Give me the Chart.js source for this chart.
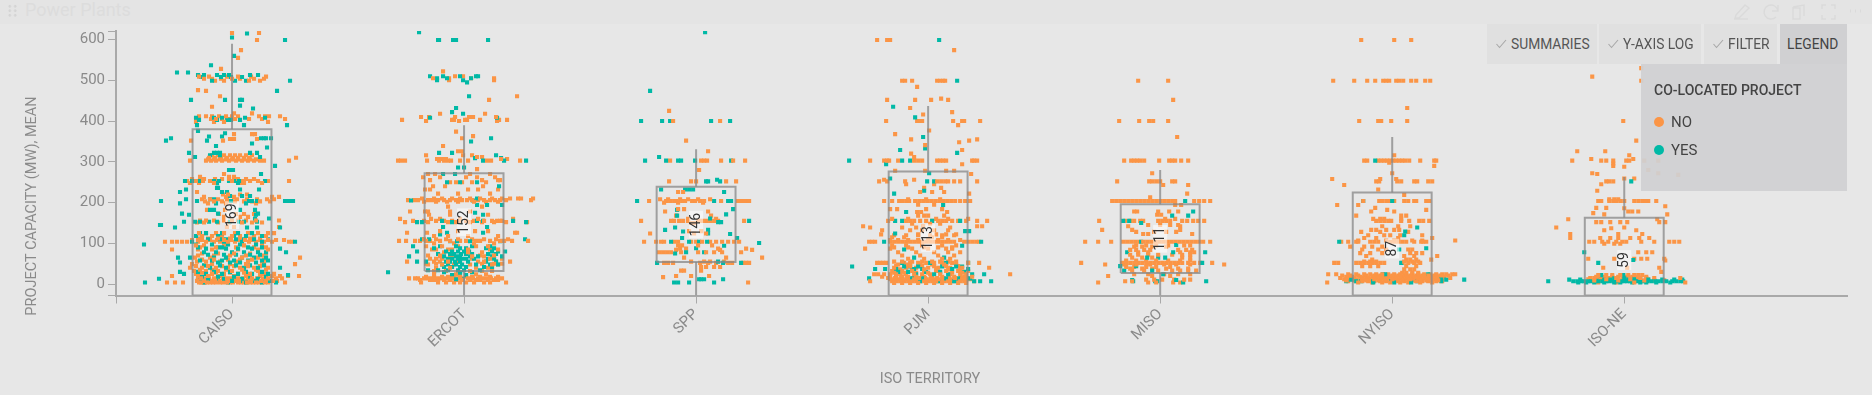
<!DOCTYPE html>
<html>
<head>
<meta charset="utf-8">
<title>Power Plants</title>
<script src="https://cdn.jsdelivr.net/npm/chart.js@4"></script>
<style>
  html, body { margin: 0; padding: 0; background: #e7e7e7; overflow: hidden; }
  body { width: 1872px; height: 395px; position: relative; font-family: Roboto, sans-serif; }
  canvas { position: absolute; left: 0; top: 0; filter: blur(0.4px); }
  #header { position: absolute; left: 0; top: 0; width: 1872px; height: 24px; background: #e4e4e4; }
  #header span { position: absolute; left: 25px; top: 0; line-height: 20px; font-size: 18px; color: #dcdcdc; }
  #grip { position: absolute; left: 6.5px; top: 4px; width: 11px; height: 13.5px;
    background-image: radial-gradient(circle, #d4d4d4 1.3px, transparent 1.5px); background-size: 5.5px 4.5px; }
  #icons { position: absolute; left: 1730px; top: 2px; }
  .btn { position: absolute; top: 24px; height: 40px; line-height: 40px; background: #e0e0e0; color: #555; font-size: 13.8px; box-sizing: border-box; white-space: nowrap; }
  .btn svg { position: absolute; left: 9px; top: 15px; }
  .btn b { font-weight: 400; position: absolute; top: 0; }
  #legendBox { position: absolute; left: 1641px; top: 64px; width: 206px; height: 127px; background: rgba(208,208,210,0.93); color: #444; }
  #legendBox div { position: absolute; white-space: nowrap; }
  .dot { width: 10px; height: 10px; border-radius: 50%; left: 13px; }
</style>
</head>
<body>
<canvas id="plot" width="1872" height="395"></canvas>
<div id="header"><div id="grip"></div><span>Power Plants</span>
  <svg id="icons" width="142" height="20" fill="none" stroke="#dadada" stroke-width="1.4">
    <path d="M4 17 L18 17 M6 13 L15 3 L19 6 L9 16 L5 16 Z"/>
    <path d="M48 9 A7 7 0 1 0 46 15 M48 3 L48 9 L42 9"/>
    <path d="M63 5 L74 3 L74 14 M63 5 L63 17 L70 17 L70 6 L63 6"/>
    <path d="M92 7 L92 3 L96 3 M101 3 L105 3 L105 7 M105 13 L105 17 L101 17 M96 17 L92 17 L92 13"/>
    <path d="M120 9 h1 M125 9 h1 M130 9 h1" stroke-width="3"/>
  </svg>
</div>
<div class="btn" style="left:1487px;width:110px"><svg width="11" height="10" fill="none" stroke="#a8a8a8" stroke-width="1.1"><path d="M0.5 5 L3.5 8.5 L10 1"/></svg><b style="left:24px">SUMMARIES</b></div>
<div class="btn" style="left:1599px;width:102px"><svg width="11" height="10" fill="none" stroke="#a8a8a8" stroke-width="1.1"><path d="M0.5 5 L3.5 8.5 L10 1"/></svg><b style="left:24px">Y-AXIS LOG</b></div>
<div class="btn" style="left:1704px;width:73px"><svg width="11" height="10" fill="none" stroke="#a8a8a8" stroke-width="1.1"><path d="M0.5 5 L3.5 8.5 L10 1"/></svg><b style="left:24px">FILTER</b></div>
<div class="btn" style="left:1780px;width:67px;background:#d0d0d2;color:#444"><b style="left:7px">LEGEND</b></div>
<div id="legendBox">
  <div style="left:13px;top:17px;font-size:14px;font-weight:500;line-height:18px">CO-LOCATED PROJECT</div>
  <div class="dot" style="top:53px;background:#fb9546"></div>
  <div style="left:30px;top:49px;font-size:15px;line-height:18px">NO</div>
  <div class="dot" style="top:81px;background:#00b9a6"></div>
  <div style="left:30px;top:77px;font-size:15px;line-height:18px">YES</div>
</div>
<script>
const categories = ["CAISO", "ERCOT", "SPP", "PJM", "MISO", "NYISO", "ISO-NE"];
const means = [169, 152, 146, 113, 111, 87, 59];
const boxTop = [380, 272, 239, 276, 196, 225, 163];
const boxBottom = [-28, 32, 54, -28, 27, -28, -28];
const whiskerTop = [590, 390, 331, 437, 280, 361, 263];
const whiskerBottom = [-28, -28, -28, -28, -28, -28, -28];
const yTicks = [-28, 0, 100, 200, 300, 400, 500, 600, 621];

// each row: [project capacity in MW, [jitter of each project, in 1/232 of a band]]
const caisoNo = [
  [616,[0,27]],[599,[25]],[574,[9]],[555,[6]],[528,[-11]],
  [509,[-33,-23,-5,6,19,34]],[504,[-28,-20,-11,0,8,22,32]],[499,[-17,-8,17,28]],
  [476,[-34]],[474,[-26]],[461,[-12]],[435,[-20]],[419,[2,20]],
  [412,[-33,-26,-20,-13,-6,0,6,27,33,37,48]],[405,[-36,-21,-16,-10,-3,3,17,30,53]],[398,[-36,-18,-8,36]],
  [368,[2,20,23]],[356,[-2,2,25]],[352,[-41,-9]],
  [316,[-20,-14,-8,-2,3,8,14,20]],[310,[-23,-17,-11,-5,1,6,12,17,64]],[306,[-24,-18,-12,-6,0,6,12,18,24]],[303,[-42,-26,-21,-16,-10,-3,4,10,16,22,28,32,57]],
  [270,[-8]],[263,[-32,-3,2]],
  [258,[-40,-28,-17,-10,-3,6,14,22]],[253,[-45,-36,-29,-22,-14,0,3,10,18,26,36,57]],[248,[-42,-33,-18,8,12,30]],
  [226,[-35]],[220,[-9,-4,8,15]],[214,[-28,-6,2,47,40]],
  [208,[-30,-22,-14,-5,5,15,25,35,42]],[203,[-27,-18,-10,-2,3,12,20,28,38]],[198,[-24,-6,24]],
  [182,[-25,-7]],[172,[-13,4,12,22]],[165,[-8,8,16]],
  [156,[-32,-26,-18,-8,0,6,14,24,47]],[151,[-35,-28,-14,-3,10,20,30]],[140,[-5,2,47]],
  [125,[-33,-26,-16,-8,3,16,26,36,42]],[118,[-30,-20,-10,0,8,22,34]],[112,[-34,-24,-14,-2,8,18,28]],
  [108,[-40,-30,-22,-15,-8,-1,6,13,20,28,36,44,52]],[104,[-67,-60,-55,-50,-45,-34,-26,-18,-12,-4,3,10,17,24,32,40,57,60]],
  [95,[-36,-28,-8,12,30]],[90,[-32,-16,4,22,34]],[85,[-60,-34,-20,6,26,36]],[75,[-30,-14,2,18,34]],[70,[-34,-18,-2,14,30]],
  [65,[68,-37,-22,-6,10,26]],[60,[-30,-18,-4,8,20,32]],[55,[-35,-26,-12,4,16,30]],[49,[63,-40,-20,-2,14,32]],[44,[-36,-24,-10,2,16,28]],
  [40,[-42,-30,-16,-4,8,22,36]],[35,[-32,-20,-6,10,24,34]],[32,[-38,-26,-14,0,12,26]],[28,[-30,-16,-2,12,28]],[25,[-36,-20,-8,6,18,32,42]],
  [20,[-60,67,-34,-24,-12,2,14,28,40,48,56]],
  [14,[-34,-31,-27,-23,-18,-14,-9,-5,-1,2,6,11,16,20,25,31,36,44,50]],
  [8,[-35,-32,-30,-28,-24,-20,-17,-13,-8,-4,0,3,7,10,14,19,23,26,29,34,38,41,45]],
  [4,[-65,-57,-49,-33,-31,-29,-27,-25,-22,-19,-16,-12,-9,-5,-2,1,6,9,12,15,18,21,24,27,30,33,36,53]]
];
const caisoYes = [
  [615,[15]],[605,[0]],[599,[53]],[560,[2]],[537,[-21]],[519,[-55,-44]],
  [513,[-34,-28,-15,-8,-3,18,26]],[508,[-31,-11,-1,10]],[499,[58,-20,3,14]],[474,[45]],
  [452,[-41,-7,8,10]],[438,[8]],[431,[21]],
  [408,[-36,-18,-10,13,33]],[403,[-33,-15,-5,-1,8]],[390,[55,12,-35]],[376,[-34]],
  [370,[-7]],[362,[-23,-10]],[358,[32,29,34,39,-61]],[352,[-25,-66]],[345,[20]],[339,[-16]],[335,[35]],
  [322,[-43,-18,-15,-12,18,25]],[316,[-22,-12]],[312,[-37,28]],[290,[43]],[280,[-3,1]],[270,[29]],
  [253,[-47,-40,-32,-18,-13,-3,2,7,33]],[248,[-15,6]],[236,[-15,-14]],[232,[27,-46,8]],[226,[-52,-10,-5]],
  [216,[10,-2,18]],[208,[-46,-22,-18]],[204,[-71,-35,-1,17,20,25,53,57,61]],[198,[-52,-16,14]],
  [182,[-22,-18,23,8]],[173,[-50,-14,26]],[170,[-43,24]],
  [161,[37,23]],[153,[-48,-37,-32,-23,-15,-2,7,12,25]],[145,[-72,-71]],[139,[-57,48,15,25]],
  [125,[-32,-26,-10,6,20]],[118,[-36,-30,-14,2,14,30]],[110,[-24,-12,-6,4,12,22,36]],[104,[63,-40,-8,10,30]],
  [97,[-88,-36,-20,-4,8,24]],[90,[-34,-14,-10,16,30]],[87,[48,-26,-6,6,20]],[78,[54,-28,-16,0,12,26,34]],
  [72,[-24,-8,4,18,28]],[65,[-54,-42,-18,-6,10,22,34]],[58,[-32,-20,-10,2,16,30,36]],
  [53,[-52,-14,-2,8,24]],[46,[-28,-12,4,18,32]],[40,[48,-22,-6,12,26]],[30,[-52,-34,-18,-2,14,30]],
  [25,[-48,-26,-10,6,20,36]],[22,[56]],[18,[-30,-14,2,18,34]],[13,[-73,-24,-8,10,26]],
  [8,[-32,-16,0,8,22,38]],[4,[-87,44,-28,-4,14,30]]
];

const ercotNo = [
  [522,[-21]],[510,[-9,-1]],[505,[-31,-15,7,30]],[500,[-15,30]],[461,[53]],[452,[25]],
  [418,[-24,21]],[410,[-43,-35,-9,5,9,32]],[403,[-62,-12,-10,1,3,16,43,35]],[400,[-38,-5,33]],
  [374,[-8]],[363,[9]],[358,[-2]],[339,[-21]],[326,[-6,-2]],[316,[-38,-1,8]],[312,[13,18]],
  [307,[-27,-24,-21,-18,37,43]],[303,[-66,-63,-59,-37,-25,-20,-16,-13,-4,4,23,27,56]],[282,[13]],
  [270,[-29,-36,6,26]],[262,[-41,-24,2,13,31]],[255,[-34,36,18,34]],[250,[-14,-8,-2,8,22]],[240,[-31,-19,19]],
  [232,[-34,-39,4,34,14]],[222,[-26,-6,26]],
  [210,[54,57,69,-42,-30,-22,-12,-4,6,16,28,38,46]],[206,[-56,-50,-46,-36,-32,-26,-20,-14,-8,-2,3,8,14,20,26,31,36,42,67]],[202,[-40,-28,-17,-6,10,22,34]],
  [190,[-16,18]],[178,[-54,-39,-36,-14,6]],[170,[-35,-14,24]],
  [160,[-64,49,-33,-24,-4,14]],[155,[-51,-40,-28,-20,-12,-5,2,10,20,28,33,36,38,49]],[152,[-59,-36,-16,-8,6,18,30,42,63]],
  [130,[-24,-6,11,24]],[126,[-57,51,53,-37]],[118,[-30,-16,4,34]],
  [110,[-40,-28,-18,-6,8,20,32,44]],[106,[-65,-58,-49,-44,-38,-34,-24,-14,-4,2,12,16,26,36,40,48,64]],[100,[-30,-10,10,30]],
  [93,[-38,-22,-6,12,24]],[85,[-32,-12,34,-28,-16,4,26]],[78,[-20,4,18]],[70,[-36,-24,-14,16,30]],[68,[-24,-12,8,20]],
  [62,[-34,-28,-22,8,26,38]],[55,[-57,46,-30,-24,-16,-6,14,20,32]],[50,[-38,-28,-8,18,30,38]],[48,[-36,-22,-10,6,28,34]],[40,[-28,-14,12,24]],
  [32,[-30,-18,-6,6,18,28]],[24,[-30,-8,12,22]],[18,[-38,-30,-22,-16,-10,-4,2,8,16,26,34]],
  [14,[-55,-49,-46,-40,-36,-32,-28,-24,-18,-12,-6,-1,4,9,14,18,22,27,32,38]],
  [10,[-44,-34,-30,-26,-20,-14,-8,-2,6,12,16,24,30,34]],[4,[-43,-26,-18,-10,-4,2,10,20,26,42]]
];
const ercotYes = [
  [618,[-45]],[599,[-26,-25,-11,-8,24]],[510,[-34,-21,-4,12,14]],[505,[-27,-17,7]],[500,[-27,-1]],[495,[3]],
  [461,[5]],[432,[-8]],[422,[-12]],[418,[-1]],[408,[-34,33]],[358,[27]],[350,[7]],
  [322,[-25,-12]],[316,[32]],[309,[11,37]],[303,[19,40,62]],[286,[-6,0]],
  [270,[-21,-9]],[250,[-17,-4,13]],[240,[35]],[210,[13]],[205,[-53,9]],[194,[38,23,13]],[175,[11]],
  [170,[19]],[155,[-22,13,19,49]],[152,[-42,-47,-12,-4,62]],[140,[-21,23]],[126,[-17,19]],[122,[-24]],
  [110,[-35,-42,61]],[105,[-14,-7,6,36]],[93,[-51,-24,-8,8,26]],[88,[-30,-4,2,22,30]],[80,[-47,-18,-12,-6,0,5,28,34,41]],
  [74,[-26,-14,-10,-3,2,8,24,32]],[68,[-55,-20,-8,-4,6,14,28,38]],[62,[-16,-12,-6,-2,2,10,24,30]],[55,[-47,-38,-18,-14,-9,-4,4,22,32]],
  [48,[-22,-16,-8,-2,12,26,34]],[42,[-20,-12,-4,2,20,28]],[34,[-36,-26,-16,-6,0,16]],[29,[-76,-30,-20,-4,8]],[22,[-12,-4,2]],[12,[-8,-2]]
];

const sppNo = [
  [425,[-27]],[400,[-23,24]],[352,[-10]],[326,[12]],[303,[-26,5,8,11,25,37,49]],[280,[3]],
  [252,[-27,-5,0,30,40]],[226,[-18,-13]],
  [208,[-36,-28,-16,-8,2,14]],[204,[-47,-30,-26,-22,-20,-14,-11,-4,-1,4,8,25,42,45,48,50,53]],[200,[-32,-18,7]],
  [184,[-18,-12]],[178,[-31,12]],[168,[15,-20]],[160,[-8,20]],
  [155,[-55,-25,-22,-17,-13,-8,2,6,10,14,18,22,48]],[150,[-5,-2]],
  [130,[-7,5]],[124,[-46,-2,10]],
  [104,[-52,-40,-35,-32,-22,-18,-5,0,6,14,20,26,32,38,43]],[95,[-18,-14,2,16]],[87,[50,-16,-10,22]],[84,[56,-20,24]],
  [78,[-37,-33,-29,-25,-15,2,10,18,26,45]],[65,[66,-12,30]],
  [55,[-5,8,14,28]],[52,[-32,-28,-23,4,12,20,32,36,47,50,53]],[42,[5,10,18,24]],
  [33,[-12,-15,5]],[20,[-20,-5,13]],[17,[-33]],[4,[52]]
];
const sppYes = [
  [618,[9]],[474,[-46]],[400,[-55,-34,-26,15,34]],[312,[-37]],[303,[-51,-30,-18,-15,-1,35]],
  [252,[10,12,24]],[256,[21]],[232,[-35,-11,-7,-3]],[226,[28]],[204,[-59,18,32,35]],[184,[37]],[182,[-19]],
  [171,[30]],[168,[-19]],[161,[14]],[155,[53]],[152,[25,22]],[139,[-21]],[133,[-31,12]],[129,[-13]],[124,[12]],[123,[34]],
  [113,[-14,41]],[104,[-25,-7,3,11]],[101,[63]],[94,[28]],[88,[0]],[78,[-10,8]],[75,[-21]],
  [55,[22]],[52,[-39,27,45]],[12,[3,5,8,27]],[4,[-22,-18,-7,18]]
];

const pjmNo = [
  [599,[-51,-41,-38]],[574,[26]],[499,[-26,-23,-16,9,12,15,17]],[484,[-11]],[455,[13]],[452,[-41,-13,3,20]],
  [432,[-18]],[422,[24]],[416,[-5]],[400,[-42,-11,-8,-6,25,34,36,52]],[390,[30]],[377,[1]],[368,[-33]],
  [355,[-17,49]],[352,[41]],[348,[31]],[341,[-3]],[329,[34]],[320,[-17]],[312,[-14]],
  [303,[-58,-44,-41,-39,-30,-14,-10,-6,9,12,15,18,44,46,49]],[294,[34]],[278,[-33,-3,18,26]],[270,[43]],
  [256,[-14,-44]],[252,[-49,-41,-23,9,13,17,20,26,32,49]],[245,[-22,6]],[236,[13,-4]],[226,[4,-8,16]],[222,[41]],
  [208,[-20,-2,12]],[204,[-44,-36,-29,-26,-22,-19,-13,-9,-5,-1,3,7,11,15,19,23,27,32,37,42]],[195,[-10,6]],
  [184,[-38,-31,-2,14]],[177,[-11,-7,19]],[168,[-10,-4,0,16]],
  [160,[-36,-20,8,20,40]],[155,[-40,-22,-18,-14,-8,-2,4,10,14,18,24,30,38,49,59]],[148,[-16,2,12]],[142,[-65,54,49,-5]],
  [139,[-58,-26,-12,22]],[132,[-46,-18,-6,6,20]],[122,[-47,-10,8,18,28]],[120,[-34,-22,-10,2,14,26]],[115,[-36,-24,4,14]],
  [108,[-38,-30,-20,-10,0,10,20,32]],[104,[-59,-56,-53,-38,-34,-30,-26,-22,-18,-14,-10,-6,-2,2,6,10,14,18,22,26,36,40,44,48,51]],
  [95,[-36,-22,-6,14,28]],[90,[-34,-20,-4,10,24]],[87,[-63,-38,-16,0,18,24]],[78,[-30,-12,6,20,32]],[70,[-26,-8,10,26]],[62,[-20,-4,14,22]],
  [55,[-34,-26,-16,-6,4,12,20,28]],[52,[-51,-48,-45,-42,-24,-18,-10,-2,6,14,24,40,51]],[48,[-30,-20,-8,4,16,28]],[44,[-32,-18,-6,6,18,30]],
  [40,[61,-34,-22,-12,0,10,22,34]],[36,[-28,-16,-4,8,20,32]],[32,[-36,-26,-16,-4,8,18,30,40]],[28,[-34,-24,-12,0,12,24,34]],
  [24,[82,-54,-50,-44,-38,-32,-28,-22,-14,-6,2,12,22,32,38]],[18,[-46,-38,-32,-26,-20,-12,-4,4,14,26,36,44]],
  [15,[-40,-33,-27,-21,-15,-9,-3,3,9,15,21,27,33,39]],
  [12,[-38,-34,-30,-26,-22,-18,-14,-10,-6,-2,2,6,10,14,18,22,26,30,34,38,42]],
  [7,[-58,-36,-32,-28,-24,-20,-16,-12,-8,-4,0,4,8,12,16,20,24,28,32,36,46]],
  [3,[-34,-26,-18,-10,-2,6,14,22,30,38]]
];
const pjmYes = [
  [599,[11]],[499,[29]],[435,[-35]],[409,[-13]],[361,[-5]],[333,[-3]],[329,[-28]],[322,[29]],
  [303,[-79,-26,-18]],[294,[-42]],[272,[1]],[259,[-38]],[252,[-1,6]],[229,[-4]],[222,[-34]],[194,[15]],
  [177,[-22]],[155,[-33,-26,4,32]],[130,[37,41]],[124,[-33]],[104,[-44,53]],[94,[34]],[85,[-24]],
  [65,[-14,16]],[52,[-26,2,18,40]],[43,[-76,-24,-18,-10,14,28,34]],[37,[-53,-43,-32,-6,-14,24,40]],
  [30,[-30,-20,-2,12,36]],[24,[56,-12,6,20,44]],[14,[-59,-16,-6,18,30,42]],[7,[63,52,46,-8,10,26]]
];

const misoNo = [
  [499,[-22,8]],[452,[13]],[400,[-41,-21,-11,-7,8]],[361,[17]],
  [303,[-36,-29,-26,-23,-20,-16,-1,9,12,15,21,28]],[272,[-8]],[252,[-43,-11,-8,-4,0,12,15]],[243,[3,28]],[222,[27]],
  [213,[-10]],[204,[-48,-44,-40,-36,-32,-28,-24,-20,-16,-12,-8,-4,0,4,8,12,15,34,39,44,50]],[194,[21,15]],
  [178,[-26,-23,-2,9,18]],[170,[-3,1]],[160,[5,15]],
  [155,[-61,-35,-30,-26,-20,-17,-2,2,6,10,22,27,33,38,44]],[145,[-12,0,10,18]],[142,[-32,20]],[133,[-58,-28,20]],[128,[-24,-6,6,16]],[123,[-12,-17,32]],
  [104,[-75,-62,-49,-37,-33,-29,-25,-21,-17,-13,-9,-5,-1,3,7,11,15,19,23,27,31,35,39,43,50]],
  [95,[-24,-14,-4,8,24,30]],[92,[-26,-18,-8,6]],[84,[-30,-24,-16,-10,18,26,32]],[78,[-22,-12,20,30,34]],[72,[-30,-22,-12,-2,12,22,30]],[65,[-28,-18,-8,22,30]],[58,[-34,-24,-14,-4,8,20,30]],
  [52,[-79,-38,-34,-30,-26,-22,-18,-14,-10,-6,-2,2,6,10,14,18,22,28,34,40,52]],[48,[-55,-36,-24,-10,4,16,30,64]],
  [42,[-34,-26,-14,-4,10]],[38,[-30,-18,-8,6,18,28]],[33,[-28,-16,-2,12,20,28,36]],[24,[-26,-12,4,18,30]],[20,[-52,-8,10]],[11,[-14,-6,2,14,24,30]],[7,[-35,-28]],[4,[-62,-12,-4,13,20]]
];
const misoYes = [
  [204,[25]],[178,[33]],[168,[28,12]],[155,[-37,-31]],[150,[-19]],[104,[-19]],[96,[16]],
  [78,[-33,13,45]],[65,[-13,-2,5]],[52,[42]],[44,[-40,-24]],[33,[-36,-8]],[24,[3]],[10,[-28,16]],[7,[-27,-5,-3,46]],[4,[23]]
];

const nyisoNo = [
  [599,[-31,2,19]],[499,[-59,-38,-25,-17,-9,-6,-3,4,7,11,19,24,33,38]],[432,[15]],[400,[-33,-14,-11,-1,15]],
  [316,[2]],[303,[-28,-25,-14,-11,-8,-5,-2,1,4,7,10,13,17,28,42,44]],[298,[-3]],[290,[42]],[272,[0]],
  [258,[-60,-12,4]],[252,[-16,-13,5,9,22,25,36,40]],[243,[-48]],[232,[-14]],[219,[12]],
  [204,[-29,-13,-10,-6,-3,2,12,16,22,24,34,37]],[194,[-55,-34]],[187,[-17]],[182,[-5,34]],[178,[-21,2]],[168,[-36,9,14]],
  [160,[-19,-12,-8,9]],[155,[-16,-12,-8,-4,-1,9,17,27,31,37]],[142,[-10,6,18]],[133,[-21,-16,-6,2,7]],[128,[-31,-12,16]],
  [120,[-24,-8,-2,8,30]],[113,[-28,-16,40,6]],[107,[63,-34,-6,2,20,30]],
  [104,[-51,-44,-36,-34,-22,-18,-14,-2,2,6,10,14,22,29,31,34]],[92,[-42,-28,-20,-10]],[85,[-30,-14,-6,16,20]],
  [76,[-32,-22,-10,18,24,30]],[69,[45,-26,12,22]],[60,[39,-20,14,18,24]],
  [55,[12,20,26,-28,-22,-16]],[52,[-58,-54,-36,-32,-28,-24,-20,-16,-12,-8,10,16,22,28]],[44,[-30,-22,-14,14,24]],
  [36,[12,18,22]],[28,[10,14,20,26]],
  [24,[-64,-56,-44,-36,-28,-22,-16,-10,-4,2,8,14,20,26,32,38,44,50,54,60,63]],
  [21,[-50,-42,-34,-26,-18,-12,-6,0,6,12,18,24,30,36,42,48,56]],
  [18,[-46,-40,-32,-26,-20,-14,-8,-2,4,10,16,22,28,34,40,46,52]],
  [15,[-52,-44,-38,-30,-24,-16,-10,-4,2,8,14,20,26,32,38,44,50,58]],
  [12,[-48,-42,-36,-30,-26,-22,-18,-12,-6,0,6,12,18,24,30,36,42,48]],
  [9,[-46,-38,-32,-26,-20,-14,-8,-2,4,10,16,22,28,34,40,46]],
  [7,[-44,-36,-30,-24,-18,-12,-6,0,6,12,18,24,30,36,44,50]],[4,[-65,-34,-20,-10,-2,8,16,28,40]]
];
const nyisoYes = [
  [303,[-17]],[204,[-29,0]],[139,[25]],[129,[13]],[120,[12]],[104,[-53]],[88,[34]],[85,[7]],[52,[9]],
  [24,[-9,-7,36]],[11,[72,-41,54,49]],[7,[-46,-36,-31,-19,-1,25,49]],[4,[-19,2,19]]
];

const isoneNo = [
  [530,[17]],[509,[-32]],[499,[17]],[400,[-1]],[352,[12]],[326,[-47,-19]],[316,[5]],
  [307,[-33,9]],[303,[-52,-23,-18,-11,2,5,20,34]],[296,[-11]],[290,[-11]],[288,[0]],[280,[24]],[272,[-32,34]],[270,[-27]],[268,[54]],
  [259,[10,0]],[252,[-18,-15,-11]],[245,[-23]],[229,[-27]],
  [208,[-15,-10,-6]],[204,[-26,-23,-15,-11,-8,-4,0,10,14,18,21,24,32]],[191,[41]],[187,[-28,-18]],[186,[0]],
  [178,[4,8,14]],[174,[-31]],[171,[43,-20]],[159,[-56,33]],[152,[-28,-23,-14,-4,3,35,41]],[139,[-68,0]],[137,[-13]],
  [132,[-20,12]],[123,[-54,-6,18]],[113,[-54,-24,-14,-6,6,15,25]],
  [104,[-35,-30,-22,-16,-8,-2,2,17,30,45,50,55]],[99,[-20,-10,-4]],[78,[14,22,28]],[62,[40,-36,-10,10,17,23]],[58,[41]],
  [40,[-21,35,3]],[30,[37]],
  [22,[-26,-18,-12,-4,-1,4,10,14,18]],[18,[-28,-20,-12,-6,2,8,14,22]],[15,[-34,-30,-24,-16,-8,0,8,16,22,30,56]],[12,[-36,-26,-18,-10,-2,6,14,24]],[9,[-30,-22,-14,-6,4,12,20,30,40]],[4,[61,-26,-8,10]]
];
const isoneYes = [
  [252,[7]],[78,[-40]],[59,[9]],[52,[-26]],[22,[-23,-1]],[14,[0,-10,10]],
  [11,[-55,-44,-28,-20,-14,-8,4,16,24,38,50,58]],
  [7,[-76,-51,-47,-43,-40,-36,-33,-29,-26,-22,-18,-15,-11,-7,-3,0,3,6,10,13,17,20,23,27,31,34,38,42,48,52,56,59]],
  [4,[-46,-38,-30,-20,-10,-4,8,16,22,32,46]]
];

const noRows = [caisoNo, ercotNo, sppNo, pjmNo, misoNo, nyisoNo, isoneNo];
const yesRows = [caisoYes, ercotYes, sppYes, pjmYes, misoYes, nyisoYes, isoneYes];

const BAND_UNITS = 232;
const BOX_HALF = 0.17;
const AXIS_GREY = "#a9a9a9";
const TEXT_GREY = "#8a8a8a";

function toPoints(groups) {
  return groups.flatMap((rows, cat) =>
    rows.flatMap(([mw, jitters]) => jitters.map(j => ({ x: cat + j / BAND_UNITS, y: mw })))
  );
}

function outline(points) {
  return {
    type: "line", data: points, order: 0, showLine: true, pointRadius: 0,
    borderColor: "rgba(135,135,135,0.75)", borderWidth: 2, tension: 0, fill: false
  };
}

function dots(label, data, order, color) {
  return { type: "scatter", label, data, order, backgroundColor: color, borderWidth: 0, pointStyle: "rect", pointRadius: 2.9 };
}

const boxSets = categories.map((_, i) => outline([
  { x: i - BOX_HALF, y: boxBottom[i] }, { x: i - BOX_HALF, y: boxTop[i] },
  { x: i + BOX_HALF, y: boxTop[i] }, { x: i + BOX_HALF, y: boxBottom[i] },
  { x: i - BOX_HALF, y: boxBottom[i] }
]));
const upperWhiskers = categories.map((_, i) => outline([{ x: i, y: boxTop[i] }, { x: i, y: whiskerTop[i] }]));
const lowerWhiskers = categories.map((_, i) => outline([{ x: i, y: boxBottom[i] }, { x: i, y: whiskerBottom[i] }]));

// the two colours are mixed in the original draw order, so part of NO goes over YES
const noPoints = toPoints(noRows);
const noUnder = noPoints.filter((_, i) => i % 3 !== 0);
const noOver = noPoints.filter((_, i) => i % 3 === 0);

// mean labels sit on the box at the mean, turned to read upward
const meanLabels = {
  id: "meanLabels",
  afterDatasetsDraw(chart) {
    const { ctx, scales } = chart;
    ctx.save();
    ctx.font = "14px Roboto";
    ctx.textAlign = "center";
    ctx.textBaseline = "middle";
    means.forEach((m, i) => {
      const text = String(m);
      ctx.save();
      ctx.translate(scales.x.getPixelForValue(i), scales.y.getPixelForValue(m));
      ctx.rotate(-Math.PI / 2);
      const w = ctx.measureText(text).width;
      ctx.fillStyle = "rgba(255,255,255,0.55)";
      ctx.fillRect(-w / 2 - 2, -7, w + 4, 14);
      ctx.fillStyle = "#333";
      ctx.fillText(text, 0, 0);
      ctx.restore();
    });
    ctx.restore();
  }
};

// axis titles are not centred on the axes in the original, so they are placed by hand
const axisTitles = {
  id: "axisTitles",
  afterDraw(chart) {
    const { ctx } = chart;
    ctx.save();
    ctx.font = "14.5px Roboto";
    ctx.fillStyle = TEXT_GREY;
    ctx.textAlign = "center";
    ctx.textBaseline = "middle";
    ctx.fillText("ISO TERRITORY", 930, 379);
    ctx.translate(32, 206);
    ctx.rotate(-Math.PI / 2);
    ctx.fillText("PROJECT CAPACITY (MW), MEAN", 0, 0);
    ctx.restore();
  }
};

new Chart(document.getElementById("plot").getContext("2d"), {
  data: {
    datasets: [
      dots("NO", noUnder, 3, "#fb9546"),
      dots("YES", toPoints(yesRows), 2, "#00b9a6"),
      dots("NO", noOver, 1, "#fb9546"),
      ...boxSets, ...upperWhiskers, ...lowerWhiskers
    ]
  },
  options: {
    responsive: false,
    animation: false,
    events: [],
    layout: { padding: { top: 31, right: 25, left: 0, bottom: 0 } },
    plugins: { legend: { display: false }, tooltip: { enabled: false } },
    scales: {
      x: {
        type: "linear", min: -0.5, max: 6.96,
        afterBuildTicks: s => { s.ticks = [-0.5, 0, 1, 2, 3, 4, 5, 6].map(value => ({ value })); },
        afterFit: s => { s.height = 99.5; },
        grid: { drawOnChartArea: false, color: AXIS_GREY, tickLength: 8 },
        border: { color: AXIS_GREY, width: 2 },
        ticks: {
          autoSkip: false, minRotation: 45, maxRotation: 45, padding: 2,
          color: TEXT_GREY, font: { family: "Roboto", size: 15 },
          callback: v => categories[v] || ""
        }
      },
      y: {
        type: "linear", min: -28, max: 621,
        afterBuildTicks: s => { s.ticks = yTicks.map(value => ({ value })); },
        afterFit: s => { s.width = 116; },
        grid: { drawOnChartArea: false, color: AXIS_GREY, tickLength: 8 },
        border: { color: AXIS_GREY, width: 2 },
        ticks: {
          autoSkip: false, padding: 3,
          color: TEXT_GREY, font: { family: "Roboto", size: 15 },
          callback: v => (v >= 0 && v % 100 === 0 ? v : "")
        }
      }
    }
  },
  plugins: [meanLabels, axisTitles]
});
</script>
</body>
</html>
